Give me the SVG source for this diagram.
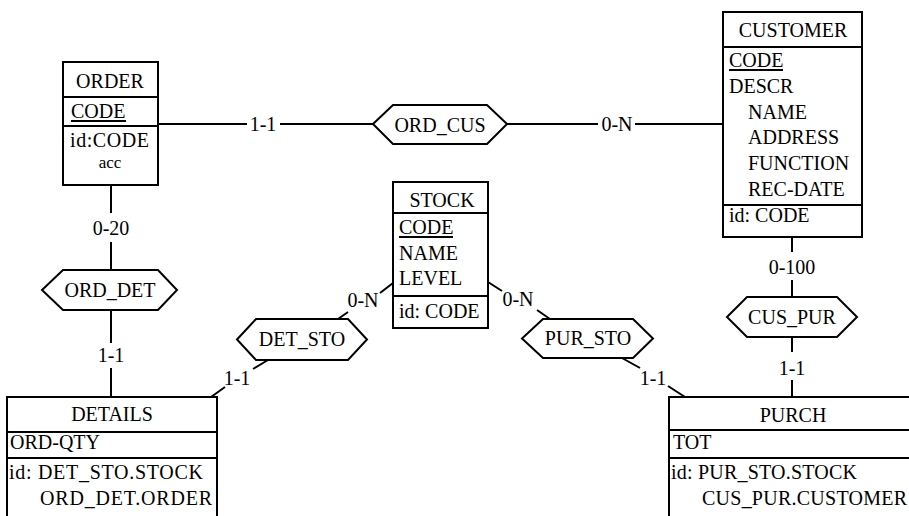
<svg xmlns="http://www.w3.org/2000/svg" width="909" height="516" viewBox="0 0 909 516" font-family="Liberation Serif, Times New Roman, serif" font-size="20">
<style>
text{fill:#000}
.box{fill:#fff;stroke:#000;stroke-width:2}
.sep{stroke:#000;stroke-width:2}
.hex{fill:#fff;stroke:#000;stroke-width:2}
.c{text-anchor:middle}
.ul{stroke:#000;stroke-width:2}
#connectors line{stroke:#000;stroke-width:2}
</style>
<rect width="909" height="516" fill="#fff"/>
<g id="connectors">
<line x1="158" y1="124" x2="247" y2="124"/>
<line x1="280" y1="124" x2="373" y2="124"/>
<line x1="507" y1="124" x2="598" y2="124"/>
<line x1="635" y1="124" x2="723" y2="124"/>
<line x1="111" y1="185" x2="111" y2="213"/>
<line x1="111" y1="242" x2="111" y2="270"/>
<line x1="111" y1="310" x2="111" y2="343"/>
<line x1="111" y1="368" x2="111" y2="397"/>
<line x1="338" y1="319" x2="348" y2="312"/>
<line x1="380" y1="293" x2="393" y2="283"/>
<line x1="268" y1="360" x2="253" y2="369"/>
<line x1="225" y1="387" x2="211" y2="397"/>
<line x1="488" y1="282" x2="502" y2="291"/>
<line x1="537" y1="310" x2="550" y2="319"/>
<line x1="622" y1="358" x2="640" y2="368"/>
<line x1="668" y1="386" x2="685" y2="397"/>
<line x1="792" y1="237" x2="792" y2="252"/>
<line x1="792" y1="280" x2="792" y2="297"/>
<line x1="792" y1="337" x2="792" y2="352"/>
<line x1="792" y1="380" x2="792" y2="397"/>
<text class="c" x="263" y="131">1-1</text>
<text class="c" x="617" y="131">0-N</text>
<text class="c" x="111" y="235">0-20</text>
<text class="c" x="111" y="362">1-1</text>
<text class="c" x="363" y="307">0-N</text>
<text class="c" x="237" y="385">1-1</text>
<text class="c" x="518" y="306">0-N</text>
<text class="c" x="653" y="385">1-1</text>
<text class="c" x="792" y="274">0-100</text>
<text class="c" x="792" y="375">1-1</text>
</g>
<g id="ORDER">
<rect class="box" x="63" y="62" width="95" height="123"/>
<line class="sep" x1="63" y1="97" x2="158" y2="97"/>
<line class="sep" x1="63" y1="126" x2="158" y2="126"/>
<text class="c" x="110" y="88">ORDER</text>
<text x="71" y="118">CODE</text>
<line class="ul" x1="71" y1="121" x2="126" y2="121"/>
<text x="70" y="147" textLength="79" lengthAdjust="spacing">id:CODE</text>
<text class="c" x="110" y="168" font-size="17">acc</text>
</g>
<g id="CUSTOMER">
<rect class="box" x="723" y="12" width="139" height="225"/>
<line class="sep" x1="723" y1="47" x2="862" y2="47"/>
<line class="sep" x1="723" y1="205" x2="862" y2="205"/>
<text class="c" x="793" y="37">CUSTOMER</text>
<text x="729" y="67">CODE</text>
<line class="ul" x1="729" y1="70" x2="783" y2="70"/>
<text x="729" y="93">DESCR</text>
<text x="748" y="118.5">NAME</text>
<text x="748" y="144">ADDRESS</text>
<text x="748" y="170">FUNCTION</text>
<text x="748" y="195.5">REC-DATE</text>
<text x="729" y="222">id: CODE</text>
</g>
<g id="STOCK">
<rect class="box" x="393" y="182" width="95" height="146"/>
<line class="sep" x1="393" y1="213" x2="488" y2="213"/>
<line class="sep" x1="393" y1="296" x2="488" y2="296"/>
<text class="c" x="442" y="207">STOCK</text>
<text x="399" y="234">CODE</text>
<line class="ul" x1="399" y1="237" x2="453" y2="237"/>
<text x="399" y="260">NAME</text>
<text x="399" y="285">LEVEL</text>
<text x="399" y="318">id: CODE</text>
</g>
<g id="DETAILS">
<rect class="box" x="7" y="397" width="210" height="130"/>
<line class="sep" x1="7" y1="432" x2="217" y2="432"/>
<line class="sep" x1="7" y1="458" x2="217" y2="458"/>
<text class="c" x="112" y="421">DETAILS</text>
<text x="10" y="449">ORD-QTY</text>
<text x="9" y="479" textLength="194" lengthAdjust="spacing">id: DET_STO.STOCK</text>
<text x="40" y="505" textLength="172" lengthAdjust="spacing">ORD_DET.ORDER</text>
</g>
<g id="PURCH">
<rect class="box" x="669" y="397" width="248" height="130"/>
<line class="sep" x1="669" y1="430" x2="917" y2="430"/>
<line class="sep" x1="669" y1="458" x2="917" y2="458"/>
<text class="c" x="793" y="422">PURCH</text>
<text x="673" y="449">TOT</text>
<text x="671" y="479" textLength="186" lengthAdjust="spacing">id: PUR_STO.STOCK</text>
<text x="702" y="505" textLength="205" lengthAdjust="spacing">CUS_PUR.CUSTOMER</text>
</g>
<g id="ORD_CUS">
<polygon class="hex" points="373,124 393,105 487,105 507,124 487,144 393,144"/>
<text class="c" x="440" y="132">ORD_CUS</text>
</g>
<g id="ORD_DET">
<polygon class="hex" points="42,290 63,270 158,270 177,290 158,310 63,310"/>
<text class="c" x="110" y="297">ORD_DET</text>
</g>
<g id="DET_STO">
<polygon class="hex" points="237,339.5 256,319 348,319 367,339.5 348,360 256,360"/>
<text class="c" x="302" y="346">DET_STO</text>
</g>
<g id="PUR_STO">
<polygon class="hex" points="522,338.5 543,319 633,319 653,338.5 633,358 543,358"/>
<text class="c" x="588" y="345">PUR_STO</text>
</g>
<g id="CUS_PUR">
<polygon class="hex" points="727,317 747,297 837,297 857,317 837,337 747,337"/>
<text class="c" x="792" y="324">CUS_PUR</text>
</g>
</svg>
